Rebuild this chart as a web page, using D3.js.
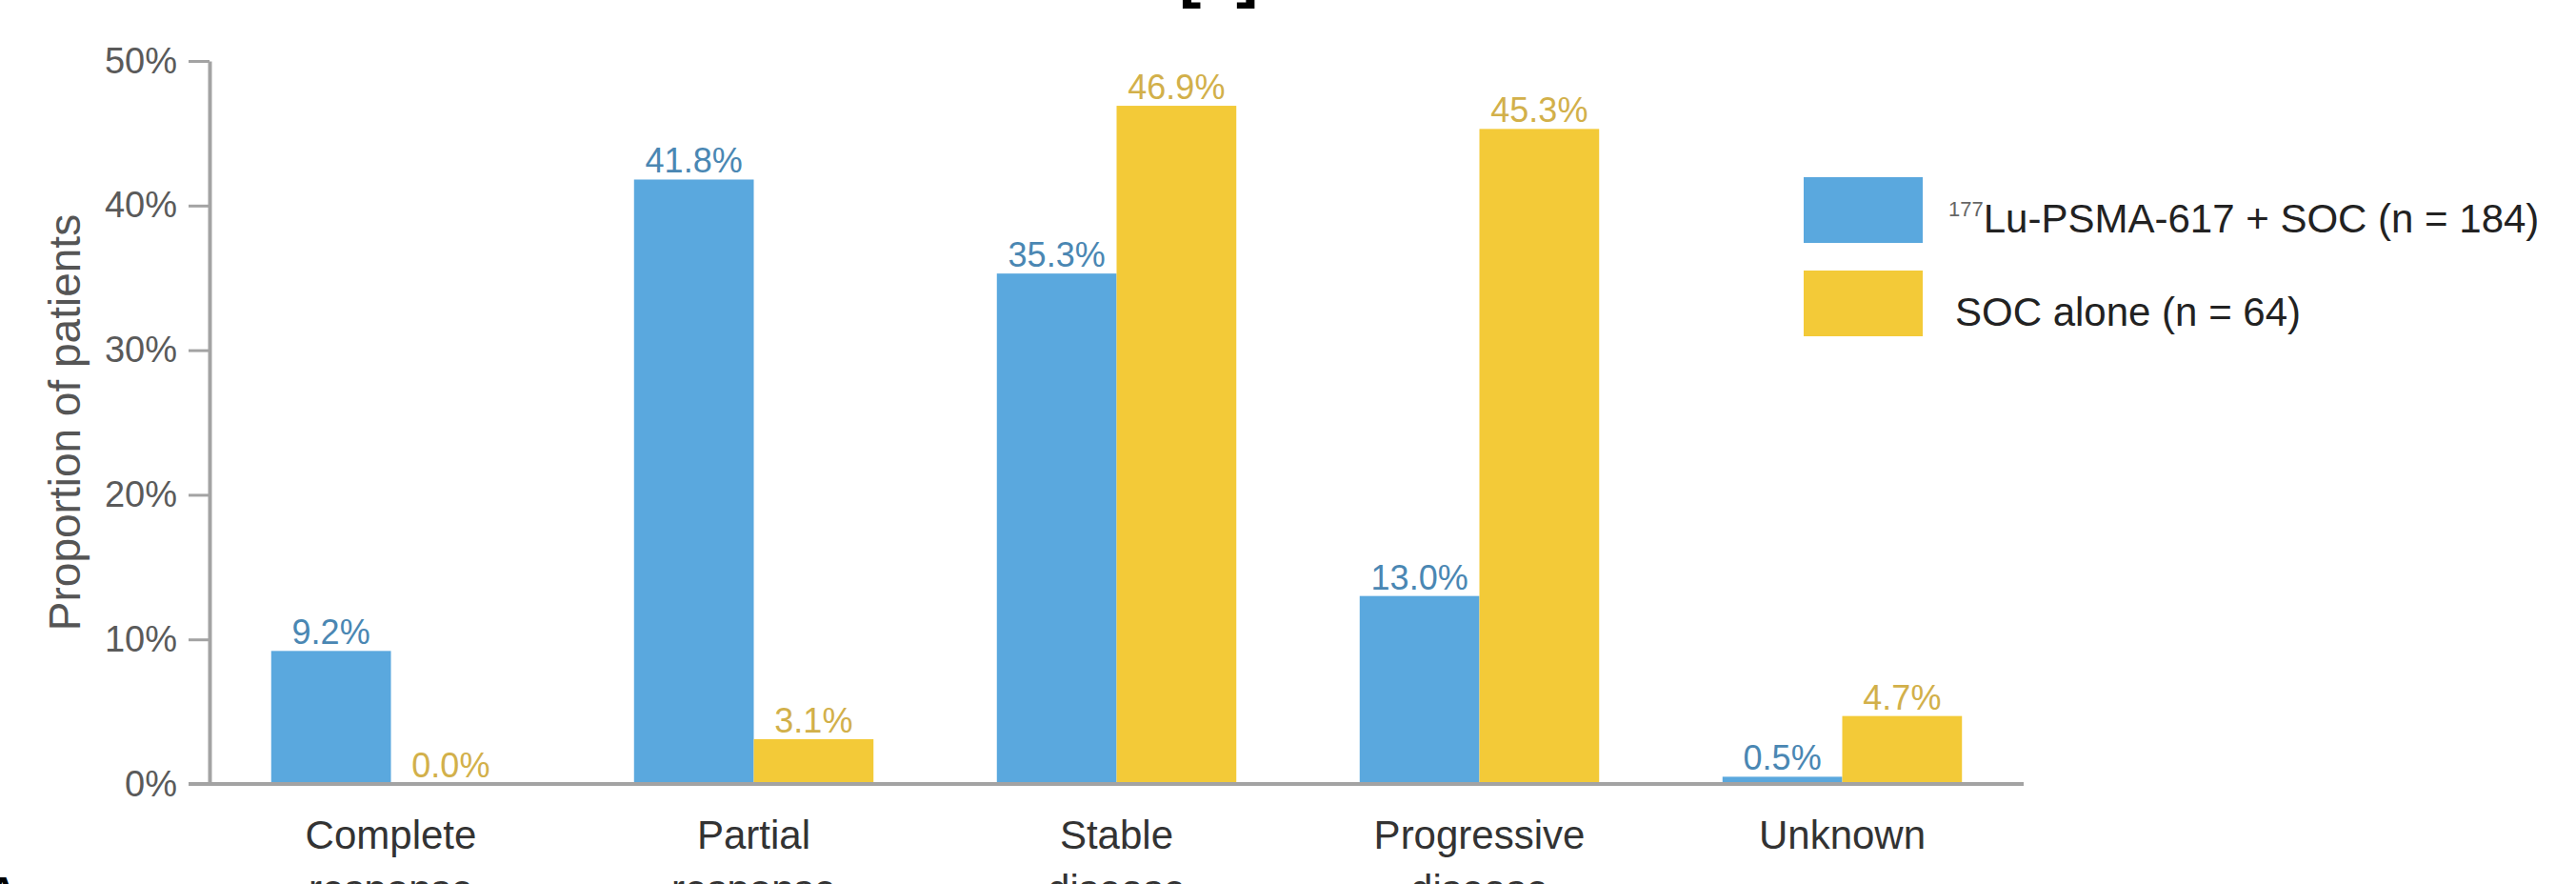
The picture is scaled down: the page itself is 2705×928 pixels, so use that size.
<!DOCTYPE html>
<html>
<head>
<meta charset="utf-8">
<script src="https://cdn.jsdelivr.net/npm/d3@7"></script>
<style>
  html, body { margin: 0; padding: 0; background: #fff; }
  svg { display: block; font-family: "Liberation Sans", Arial, sans-serif; }
</style>
</head>
<body>
<div class="bar-chart"></div>
<script>
// data
let categories = [["Complete", "response"], ["Partial", "response"], ["Stable", "disease"], ["Progressive", "disease"], ["Unknown"]];
let luValues = [9.2, 41.8, 35.3, 13.0, 0.5];
let socValues = [0.0, 3.1, 46.9, 45.3, 4.7];
let seriesNames = ["Lu-PSMA-617 + SOC (n = 184)", "SOC alone (n = 64)"];
let seriesSup = ["177", ""];
let yTicks = [0, 10, 20, 30, 40, 50];

let width = 2705,
    height = 928;

let colors = ["#5aa8de", "#f3ca38"];
let labelColors = ["#4a87b3", "#d2b04a"];

let svg = d3.select("div.bar-chart").append("svg")
    .attr("width", width)
    .attr("height", height);

svg.append("rect").attr("width", width).attr("height", height).attr("fill", "#fff");

let x0 = d3.scaleBand()
    .domain(d3.range(categories.length))
    .range([220, 2125])
    .paddingInner(0.34)
    .paddingOuter(0.17);

let x1 = d3.scaleBand()
    .domain([0, 1])
    .range([0, x0.bandwidth()]);

let y = d3.scaleLinear()
    .domain([0, 50])
    .range([823, 64]);

// y axis
let yAxis = svg.append("g")
    .attr("transform", "translate(220,0)")
    .call(d3.axisLeft(y).tickValues(yTicks).tickSize(22).tickSizeOuter(0).tickPadding(12)
      .tickFormat(function(d) { return d + "%"; }));
yAxis.select(".domain").attr("stroke", "#a3a3a3").attr("stroke-width", 4);
yAxis.selectAll(".tick line").attr("stroke", "#a3a3a3").attr("stroke-width", 3);
yAxis.selectAll(".tick text")
    .attr("font-size", 38)
    .attr("fill", "#5a5a5a")
    .attr("font-family", "Liberation Sans, Arial, sans-serif");

svg.append("text")
    .attr("transform", "translate(84," + y(25) + ") rotate(-90)")
    .attr("text-anchor", "middle")
    .attr("font-size", 46)
    .attr("fill", "#555")
    .text("Proportion of patients");

// bars
let groups = svg.selectAll(".grp")
    .data(categories)
  .enter().append("g")
    .attr("class", "grp")
    .attr("transform", function(d, i) { return "translate(" + x0(i) + ",0)"; });

let rows = [luValues, socValues];

groups.selectAll("rect")
    .data(function(d, i) { return rows.map(function(r, s) { return { s: s, v: r[i] }; }); })
  .enter().append("rect")
    .attr("x", function(d) { return x1(d.s); })
    .attr("y", function(d) { return y(d.v); })
    .attr("width", x1.bandwidth())
    .attr("height", function(d) { return y(0) - y(d.v); })
    .attr("fill", function(d) { return colors[d.s]; });

groups.selectAll("text.val")
    .data(function(d, i) { return rows.map(function(r, s) { return { s: s, v: r[i] }; }); })
  .enter().append("text")
    .attr("class", "val")
    .attr("x", function(d) { return x1(d.s) + x1.bandwidth() / 2; })
    .attr("y", function(d) { return y(d.v) - 7; })
    .attr("text-anchor", "middle")
    .attr("font-size", 36)
    .attr("fill", function(d) { return labelColors[d.s]; })
    .text(function(d) { return d.v.toFixed(1) + "%"; });

// x axis line
svg.append("line")
    .attr("x1", 198).attr("x2", x0.range()[1])
    .attr("y1", y(0)).attr("y2", y(0))
    .attr("stroke", "#a3a3a3")
    .attr("stroke-width", 4);

// category labels (second line runs off the bottom, as in the source)
groups.append("text")
    .attr("x", x0.bandwidth() / 2)
    .attr("y", 891)
    .attr("text-anchor", "middle")
    .attr("font-size", 42)
    .attr("fill", "#333")
    .selectAll("tspan")
    .data(function(d) { return d; })
  .enter().append("tspan")
    .attr("x", x0.bandwidth() / 2)
    .attr("dy", function(d, i) { return i ? 57 : 0; })
    .text(function(d) { return d; });

// legend
let legend = svg.selectAll(".legend")
    .data(seriesNames)
  .enter().append("g")
    .attr("class", "legend")
    .attr("transform", function(d, i) { return "translate(1894," + (186 + i * 98) + ")"; });

legend.append("rect")
    .attr("width", 125)
    .attr("height", 69)
    .attr("fill", function(d, i) { return colors[i]; });

let lt = legend.append("text")
    .attr("x", function(d, i) { return seriesSup[i] ? 152 : 159; })
    .attr("y", 58)
    .attr("font-size", 42)
    .attr("fill", "#333");

lt.append("tspan")
    .attr("font-size", 22)
    .attr("dy", -17)
    .attr("fill", "#666")
    .text(function(d, i) { return seriesSup[i]; });

lt.append("tspan")
    .attr("dy", function(d, i) { return seriesSup[i] ? 17 : 0; })
    .attr("fill", "#222")
    .text(function(d) { return d; });

// cut-off marks at the edges of the source picture
svg.append("text")
    .attr("x", 1238).attr("y", -6)
    .attr("font-size", 70).attr("font-weight", "bold").attr("fill", "#000")
    .text("[");
svg.append("text")
    .attr("x", 1298).attr("y", -6)
    .attr("font-size", 70).attr("font-weight", "bold").attr("fill", "#000")
    .text("]");
svg.append("text")
    .attr("x", -15).attr("y", 954)
    .attr("font-size", 48).attr("font-weight", "bold").attr("fill", "#000")
    .text("A");
</script>
</body>
</html>
